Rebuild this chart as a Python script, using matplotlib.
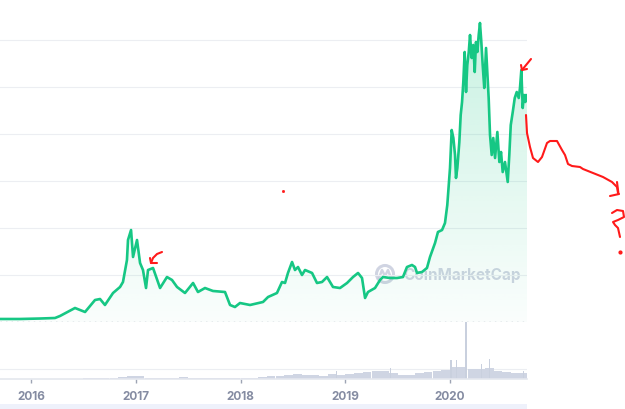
import numpy as np
import matplotlib.pyplot as plt
from matplotlib.patches import Polygon, Circle, Rectangle

# ==========================================
# Data
# ==========================================

# price line: time in fractional years, price in grid units (1 unit = 1 gridline)
price_years = [
    2015.704, 2015.895, 2016.086, 2016.229, 2016.277, 2016.420, 2016.516, 2016.611,
    2016.659, 2016.706, 2016.783, 2016.850, 2016.878, 2016.916, 2016.926, 2016.955,
    2016.974, 2017.012, 2017.041, 2017.069, 2017.098, 2017.117, 2017.165, 2017.232,
    2017.298, 2017.346, 2017.394, 2017.470, 2017.547, 2017.594, 2017.661, 2017.737,
    2017.852, 2017.900, 2017.947, 2017.995, 2018.091, 2018.215, 2018.263, 2018.348,
    2018.396, 2018.425, 2018.453, 2018.492, 2018.520, 2018.549, 2018.587, 2018.616,
    2018.683, 2018.730, 2018.778, 2018.826, 2018.883, 2018.950, 2019.017, 2019.074,
    2019.122, 2019.160, 2019.189, 2019.217, 2019.284, 2019.332, 2019.360, 2019.427,
    2019.494, 2019.551, 2019.589, 2019.637, 2019.666, 2019.685, 2019.733, 2019.780,
    2019.809, 2019.857, 2019.885, 2019.924, 2019.952, 2019.974, 2020.000, 2020.016,
    2020.032, 2020.048, 2020.057, 2020.070, 2020.089, 2020.102, 2020.115, 2020.127,
    2020.140, 2020.153, 2020.165, 2020.179, 2020.191, 2020.207, 2020.222, 2020.236,
    2020.248, 2020.261, 2020.274, 2020.286, 2020.299, 2020.312, 2020.327, 2020.344,
    2020.356, 2020.369, 2020.382, 2020.398, 2020.413, 2020.430, 2020.452, 2020.471,
    2020.487, 2020.503, 2020.525, 2020.551, 2020.566, 2020.580, 2020.599, 2020.618,
    2020.637, 2020.656, 2020.668, 2020.681, 2020.694, 2020.706, 2020.719, 2020.726,
    2020.735,
]
price_values = [
    0.064, 0.064, 0.074, 0.085, 0.128, 0.298, 0.213, 0.468,
    0.489, 0.362, 0.617, 0.745, 0.851, 1.319, 1.745, 1.957,
    1.383, 1.745, 1.255, 1.106, 0.723, 1.106, 1.149, 0.723,
    0.957, 0.894, 0.745, 0.617, 0.830, 0.638, 0.723, 0.660,
    0.638, 0.362, 0.319, 0.404, 0.362, 0.426, 0.532, 0.617,
    0.851, 0.830, 1.043, 1.277, 1.106, 1.170, 1.000, 1.106,
    1.043, 0.830, 0.851, 0.957, 0.745, 0.723, 0.830, 0.957,
    1.043, 0.936, 0.511, 0.638, 0.723, 0.894, 0.957, 0.936,
    0.936, 0.957, 1.170, 1.213, 1.170, 1.043, 1.064, 1.149,
    1.383, 1.681, 1.915, 1.957, 2.106, 2.489, 3.277, 4.085,
    3.915, 3.553, 3.064, 3.277, 3.830, 4.404, 4.681, 5.106,
    5.745, 4.894, 5.468, 5.745, 6.106, 5.617, 5.894, 5.319,
    5.957, 5.745, 6.106, 6.362, 5.957, 5.468, 4.979, 5.830,
    5.319, 4.766, 3.979, 3.553, 3.915, 3.489, 4.043, 3.404,
    3.617, 3.191, 3.404, 2.979, 3.553, 4.191, 4.468, 4.766,
    4.894, 4.766, 4.979, 5.362, 4.553, 4.830, 4.681, 4.830,
    4.723,
]

# monthly volume (relative units)
volume_months = [
    "2015-09", "2015-10", "2015-11", "2015-12",
    "2016-01", "2016-02", "2016-03", "2016-04", "2016-05", "2016-06",
    "2016-07", "2016-08", "2016-09", "2016-10", "2016-11", "2016-12",
    "2017-01", "2017-02", "2017-03", "2017-04", "2017-05", "2017-06",
    "2017-07", "2017-08", "2017-09", "2017-10", "2017-11", "2017-12",
    "2018-01", "2018-02", "2018-03", "2018-04", "2018-05", "2018-06",
    "2018-07", "2018-08", "2018-09", "2018-10", "2018-11", "2018-12",
    "2019-01", "2019-02", "2019-03", "2019-04", "2019-05", "2019-06",
    "2019-07", "2019-08", "2019-09", "2019-10", "2019-11", "2019-12",
    "2020-01", "2020-02", "2020-03", "2020-04", "2020-05", "2020-06",
    "2020-07", "2020-08", "2020-09",
]
volume_values = [
    0.5, 0.5, 0.5, 0.5,
    0.5, 0.5, 0.5, 0.5, 0.5, 0.5,
    0.8, 1.2, 1.0, 1.5, 2.0, 3.5,
    3.0, 1.5, 1.2, 1.0, 1.5, 2.0,
    1.2, 1.0, 1.0, 1.0, 1.0, 1.0,
    1.0, 1.2, 2.0, 3.0, 3.5, 4.5,
    5.0, 4.5, 4.0, 3.5, 5.5, 4.5,
    5.0, 6.0, 7.5, 8.0, 8.5, 6.5,
    4.0, 4.0, 6.5, 7.5, 8.0, 9.0,
    12.0, 12.5, 10.0, 10.5, 11.0, 8.0,
    7.0, 6.5, 6.0,
]
# single-day volume spikes
spike_years = [2018.92, 2019.43, 2020.01, 2020.06, 2020.153, 2020.30, 2020.38, 2020.70]
spike_values = [8, 11, 19, 19, 57, 15, 20, 8]

year_ticks = [2016, 2017, 2018, 2019, 2020]

# hand drawn red scribbles (pixel coords of the screenshot)
scribble_x = [526, 527, 530, 533, 538, 542, 547, 550, 557, 562, 565, 568, 572, 580, 583, 593, 603, 612, 617, 618]
scribble_y = [115, 133, 147, 158, 162, 157, 143, 141, 141, 150, 155, 164, 166, 167, 169, 173, 177, 182, 187, 193]
qmark_x = [612, 617, 623, 624, 618, 613, 615, 618, 620]
qmark_y = [213, 210, 211, 217, 220, 222, 225, 228, 237]

GREEN = "#16c784"
GRAY_TXT = "#858ca2"
x_min, x_max = 2015.704, 2020.735
y_top = 6.851

fig = plt.figure(figsize=(6.25, 4.09), dpi=100)
W, H = 625, 409

# ==========================================
# Price panel
# ==========================================
ax = fig.add_axes([0, 1 - 322 / H, 527 / W, 322 / H])
ax.set_xlim(x_min, x_max)
ax.set_ylim(0, y_top)
for s in ax.spines.values():
    s.set_visible(False)
ax.set_xticks([])
ax.set_yticks([1, 2, 3, 4, 5, 6])
ax.tick_params(left=False, labelleft=False)
ax.grid(axis="y", color="#eceef2", lw=0.8)
ax.set_axisbelow(True)

# gradient fill under line
verts = [(price_years[0], 0)] + list(zip(price_years, price_values)) + [(price_years[-1], 0)]
poly = Polygon(verts, closed=True, facecolor="none", edgecolor="none")
ax.add_patch(poly)
alpha = np.linspace(0.25, 0.02, 256)
grad = np.zeros((256, 1, 4))
grad[:, 0, 0] = 22 / 255
grad[:, 0, 1] = 199 / 255
grad[:, 0, 2] = 132 / 255
grad[:, 0, 3] = alpha
img = ax.imshow(grad, extent=[x_min, x_max, 0, y_top], aspect="auto", origin="upper", zorder=1)
img.set_clip_path(poly)

ax.axhline(0, color="#9ea4b4", lw=1.0, ls=(0, (1, 3)), zorder=3)

# watermark
wm = "#c5cadb"
ax_wm = fig.add_axes([0, 0, 1, 1], zorder=0.5)
ax_wm.set_xlim(0, W)
ax_wm.set_ylim(H, 0)
ax_wm.axis("off")
ax_wm.patch.set_alpha(0)
ax_wm.add_patch(Circle((385, 274), 8.5, fill=False, ec=wm, lw=2.2, alpha=0.8))
ax_wm.plot([379, 382, 385, 388, 391], [278, 270, 276, 270, 278], color=wm, lw=1.8, alpha=0.8)
ax_wm.text(403, 275.5, "CoinMarketCap", fontsize=11, fontweight="bold", family="Inter",
           color=wm, alpha=0.8, ha="left", va="center")

ax.set_zorder(1)
ax.patch.set_alpha(0)
ax.plot(price_years, price_values, color=GREEN, lw=1.9, solid_joinstyle="round", zorder=4)

# ==========================================
# Volume panel
# ==========================================
axv = fig.add_axes([0, 1 - 379 / H, 527 / W, 57 / H])
axv.set_xlim(x_min, x_max)
axv.set_ylim(0, 57)
for s in ["top", "left", "right"]:
    axv.spines[s].set_visible(False)
axv.spines["bottom"].set_color("#e4e7ee")
axv.spines["bottom"].set_linewidth(1.2)
axv.set_yticks([])
axv.axhline(10, color="#eceef2", lw=0.8, zorder=0)

month_pos = [int(m[:4]) + (int(m[5:]) - 0.5) / 12 for m in volume_months]
axv.bar(month_pos, volume_values, width=1 / 12 * 0.98, color="#cfd5e3", lw=0)
axv.bar(spike_years, spike_values, width=0.011, color="#c9d0de", lw=0)

axv.set_xticks(year_ticks)
axv.set_xticklabels([str(y) for y in year_ticks], fontsize=8.5, fontweight="bold",
                    family="Inter", color=GRAY_TXT)
axv.tick_params(axis="x", length=3, width=1, color="#9ea4b4", pad=6)

# light band at the bottom
ax_ov = fig.add_axes([0, 0, 1, 1], zorder=5)
ax_ov.set_xlim(0, W)
ax_ov.set_ylim(H, 0)
ax_ov.axis("off")
ax_ov.patch.set_alpha(0)
ax_ov.add_patch(Rectangle((0, 403.5), 527, 6, color="#eef1fb", lw=0))

# ==========================================
# Red scribbles
# ==========================================
red = "#ff1a1a"
kw = dict(color=red, lw=1.5, solid_capstyle="round", solid_joinstyle="round")
ax_ov.plot(scribble_x, scribble_y, **kw)
ax_ov.plot([617, 618.5], [182, 194], **kw)
ax_ov.plot([610, 619], [196, 194], **kw)
ax_ov.plot(qmark_x, qmark_y, **kw)
ax_ov.plot([620], [252], marker="o", ms=2, color=red)
ax_ov.plot([531, 522], [59, 70], **kw)
ax_ov.plot([521, 522, 527], [65, 70, 69], **kw)
ax_ov.plot([162, 157, 153, 151], [252, 254, 258, 263], **kw)
ax_ov.plot([150, 151, 157], [258, 263, 263], **kw)
ax_ov.plot([283], [191], marker="s", ms=1.0, color=red)

plt.savefig("out.png", dpi=100)
plt.close()
